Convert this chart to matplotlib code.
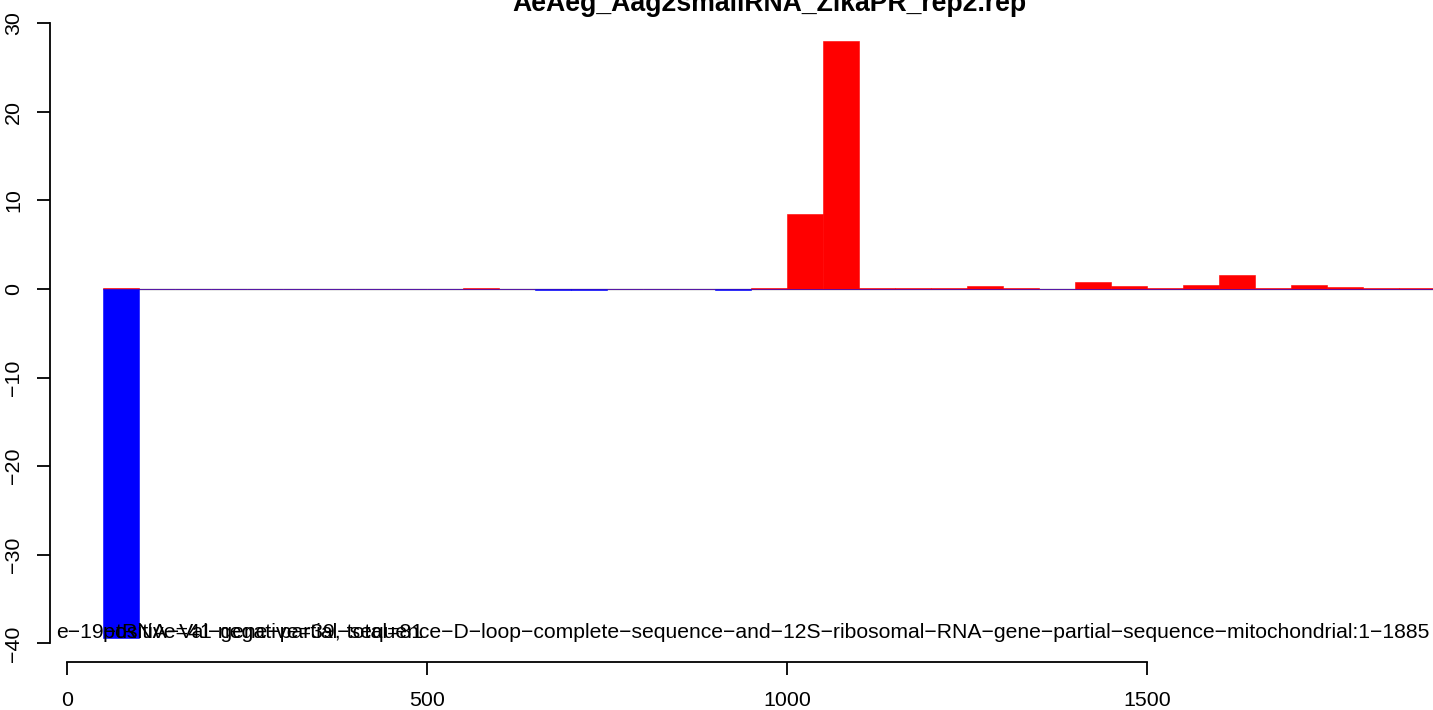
import numpy as np
import matplotlib
matplotlib.use('Agg')
import matplotlib.pyplot as plt

plt.rcParams['font.family'] = ['Liberation Sans', 'DejaVu Sans']

# 50-nt bins along the mitochondrial sequence (left edges)
bin_start = list(range(50, 1900, 50))
# positive (red) and negative (blue) strand
pos_values = [0.1, 0, 0, 0, 0, 0, 0, 0, 0, 0,           # 50 - 500
              0.1, 0, 0, 0, 0, 0, 0, 0, 0.1,            # 550 - 950
              8.5, 28.0, 0.1, 0.1, 0.1, 0.3, 0.1, 0,    # 1000 - 1350
              0.75, 0.3, 0.1, 0.41, 1.54, 0.1,          # 1400 - 1650
              0.41, 0.19, 0.1, 0.1]                     # 1700 - 1850
neg_values = [-39.4, 0, 0, 0, 0, 0, 0, 0, 0, 0,
              0, 0, -0.1, -0.1, 0, 0, 0, -0.1, 0,
              0, 0, 0, 0, 0, 0, 0, 0,
              0, 0, 0, 0, 0, 0,
              0, 0, 0, 0]
bin_width = 50

title = 'AeAeg_Aag2smallRNA_ZikaPR_rep2.rep'
seq_label = ('e-19-tRNA-Val-gene-partial-sequence-D-loop-complete-sequence-and-'
             '12S-ribosomal-RNA-gene-partial-sequence-mitochondrial:1-1885')
count_label = 'positive=41 negative=39, total=81'
x_ticks = [0, 500, 1000, 1500]
y_ticks = [-40, -30, -20, -10, 0, 10, 20, 30]

fig = plt.figure(figsize=(14.33, 7.1), dpi=100)
ax = fig.add_axes([50 / 1433, 48 / 710, 1438 / 1433, 645 / 710])

ax.hlines(0, bin_start[0], bin_start[-1] + bin_width, colors='#808080',
          linewidth=1.0, zorder=1)
ax.bar(bin_start, pos_values, width=bin_width, align='edge', color='#FF0000',
       edgecolor='#FF0000', linewidth=0.4, zorder=2)
ax.bar(bin_start, neg_values, width=bin_width, align='edge', color='#0000FF',
       edgecolor='#0000FF', linewidth=0.4, zorder=2)

ax.set_xlim(-24, 1974)
ax.set_ylim(-42.1, 30.7)

for s in ['top', 'right']:
    ax.spines[s].set_visible(False)
ax.spines['left'].set_bounds(-40, 30)
ax.spines['bottom'].set_bounds(0, 1500)
ax.spines['left'].set_linewidth(1.3)
ax.spines['bottom'].set_linewidth(1.3)

ax.set_xticks(x_ticks)
ax.set_yticks(y_ticks)
ax.tick_params(axis='both', direction='out', length=9.2, width=1.3,
               labelsize=15.4, pad=12)
ax.tick_params(axis='y', labelrotation=90, pad=10)
for lab in ax.get_yticklabels():
    lab.set_va('center')

ax.set_title(title, fontsize=19.2, fontweight='bold', pad=4)

# long sequence name, right end near the figure edge, clipped at the axes
ax.text(1893, -39.4, seq_label.replace('-', '\u2212'), fontsize=15.25,
        ha='right', va='baseline', clip_on=True)
ax.text(50, -39.4, count_label, fontsize=15.4, ha='left', va='baseline',
        clip_on=True)

plt.savefig('out.png', dpi=100)
